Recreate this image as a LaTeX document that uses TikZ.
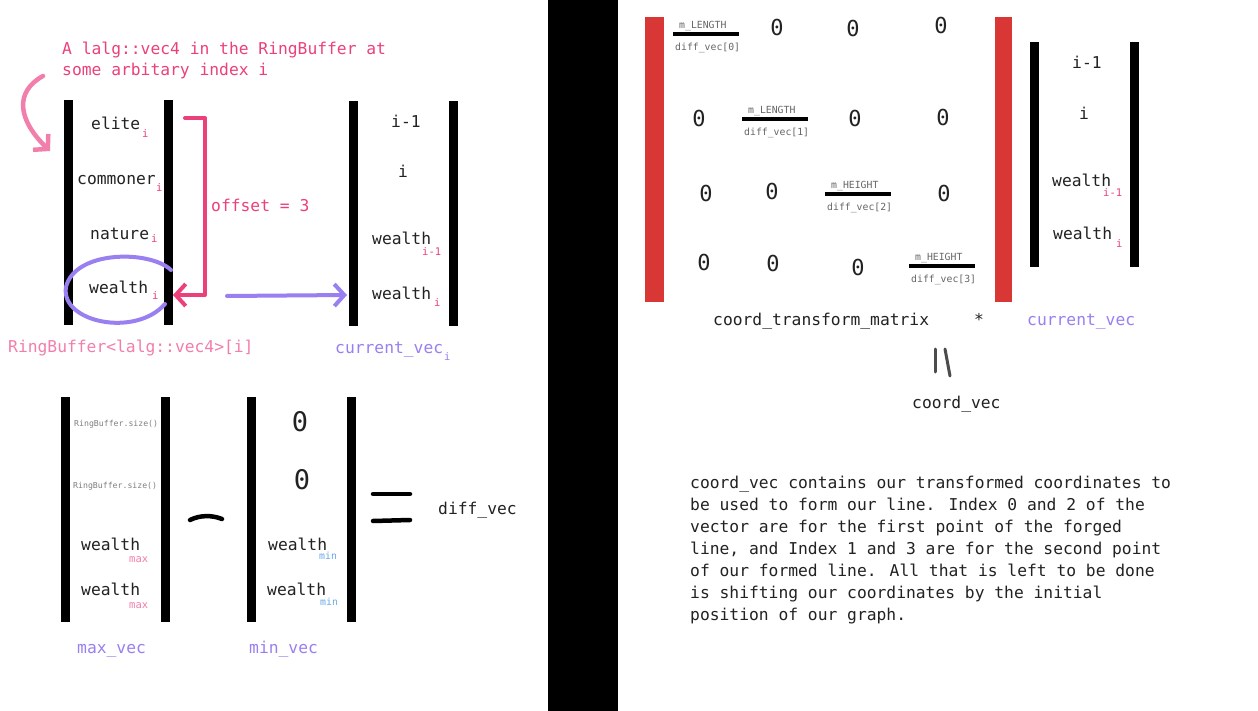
\documentclass[tikz,border=0pt]{standalone}
\usepackage{fontspec}
\setmainfont{DejaVu Sans Mono}
\usetikzlibrary{arrows.meta}

\definecolor{ringpink}{HTML}{EC407A}
\definecolor{softpink}{HTML}{F27EAC}
\definecolor{vecpurple}{HTML}{9A7FF0}
\definecolor{minblue}{HTML}{6AA8E8}
\definecolor{matred}{HTML}{D93636}
\definecolor{smallgray}{HTML}{666666}
\definecolor{inkgray}{HTML}{222222}

\tikzset{
  txt/.style={anchor=base west, inner sep=0pt, text=inkgray, font=\fontsize{16.3}{22}\selectfont},
  subtxt/.style={anchor=base west, inner sep=0pt, font=\fontsize{10.5}{12}\selectfont},
  tinytxt/.style={anchor=base west, inner sep=0pt, text=smallgray, font=\fontsize{9.8}{12}\selectfont},
  zero/.style={inner sep=0pt, text=inkgray, font=\fontsize{22}{24}\selectfont},
  hand/.style={line width=4pt, line cap=round, line join=round},
  barb/.style={-{Straight Barb[length=10pt,width=22pt]}},
}

\begin{document}
\begin{tikzpicture}[x=1pt, y=-1pt]
		% page, with the black strip in the middle
		\fill[white] (0,0) rectangle (1258,711);
		\useasboundingbox (0,0) rectangle (1258,711);
		\fill[black] (548,0) rectangle (618,711);

		% vector brackets
		\foreach \x/\ytop/\ybot in {64/100/325, 164/100/325, 349/101/326, 449/101/326,
			61/397/622, 161/397/622, 247/397/622, 347/397/622, 1030/42/267, 1130/42/267}
		\fill[black] (\x,\ytop) rectangle (\x+9,\ybot);
		\fill[matred] (645,17) rectangle (664,302);
		\fill[matred] (995,17) rectangle (1012,302);

		% RingBuffer entry at index i
		\node[txt, text=ringpink] (title1) at (62,55) {A lalg::vec4 in the RingBuffer at};
		\node[txt, text=ringpink] (title2) at (62,76) {some arbitary index i};
		\node[txt] (elite) at (91,130) {elite};
		\node[subtxt, text=ringpink] (elite-i) at (142,138) {i};
		\node[txt] (commoner) at (77,185) {commoner};
		\node[subtxt, text=ringpink] (commoner-i) at (156,192) {i};
		\node[txt] (nature) at (90,240) {nature};
		\node[subtxt, text=ringpink] (nature-i) at (151,243) {i};
		\node[txt] (wealth) at (89,294) {wealth};
		\node[subtxt, text=ringpink] (wealth-i) at (152,299) {i};
		\node[txt, text=softpink] (rblabel) at (8,352) {RingBuffer<lalg::vec4>[i]};

		% current_vec_i
		\node[txt] (cur-im1) at (391,128) {i-1};
		\node[txt, anchor=base] (cur-i) at (403,178) {i};
		\node[txt] (cur-w1) at (372,245) {wealth};
		\node[subtxt, text=ringpink] (cur-w1-s) at (422,256) {i-1};
		\node[txt] (cur-w2) at (372,299) {wealth};
		\node[subtxt, text=ringpink] (cur-w2-s) at (434,306) {i};
		\node[txt, text=vecpurple] (curlabel) at (335,353) {current\_vec};
		\node[subtxt, text=vecpurple] (curlabel-s) at (444,360) {i};

		% arrows and marks
		\coordinate (curlstart) at (43,76);
		\coordinate (curlend) at (50,151);
		\draw[hand, softpink, line width=4.5pt, barb] (curlstart) .. controls (14,92) and (18,120) .. (curlend);
		\draw[hand, vecpurple] (171,270) .. controls (150,250) and (75,250) .. (66,287)
			.. controls (60,322) and (135,338) .. (165,304);
		\coordinate (offtop) at (185,118);
		\coordinate (offcorner) at (205,295);
		\coordinate (wealth-in) at (173,295);
		\draw[hand, ringpink, barb] (offtop) -| (offcorner) -- (wealth-in);
		\node[txt, text=ringpink] (offset) at (211,212) {offset = 3};
		\coordinate (pick-out) at (227,296);
		\coordinate (cur-in) at (347,295);
		\draw[hand, vecpurple, barb] (pick-out) -- (cur-in);

		% max_vec - min_vec = diff_vec
		\node[tinytxt, text=gray, font=\fontsize{8.2}{10}\selectfont] (size1) at (74,426) {RingBuffer.size()};
		\node[tinytxt, text=gray, font=\fontsize{8.2}{10}\selectfont] (size2) at (73,488) {RingBuffer.size()};
		\node[txt] (max-w1) at (81,550) {wealth};
		\node[subtxt, text=softpink] (max-w1-s) at (129,562) {max};
		\node[txt] (max-w2) at (81,595) {wealth};
		\node[subtxt, text=softpink] (max-w2-s) at (129,608) {max};
		\node[zero, font=\fontsize{27}{30}\selectfont] (min-z1) at (300,422) {0};
		\node[zero, font=\fontsize{27}{30}\selectfont] (min-z2) at (302,480) {0};
		\node[txt] (min-w1) at (268,550) {wealth};
		\node[subtxt, text=minblue, font=\fontsize{9.8}{12}\selectfont] (min-w1-s) at (319,559) {min};
		\node[txt] (min-w2) at (267,595) {wealth};
		\node[subtxt, text=minblue, font=\fontsize{9.8}{12}\selectfont] (min-w2-s) at (320,605) {min};
		\node[txt, text=vecpurple] (maxlabel) at (77,653) {max\_vec};
		\node[txt, text=vecpurple] (minlabel) at (249,653) {min\_vec};
		\draw[hand, line width=4.5pt] (190,520) .. controls (200,515) and (212,515) .. (222,519);
		\draw[hand, line width=4.5pt] (373,494) -- (410,494);
		\draw[hand, line width=4.5pt] (373,521) -- (410,520);
		\node[txt] (diffvec) at (438,514) {diff\_vec};

		% coord_transform_matrix
		\foreach \lbl/\x/\y/\k in {m\_LENGTH/673/34/0, m\_LENGTH/742/119/1, m\_HEIGHT/825/194/2, m\_HEIGHT/909/266/3}{
			\fill[black] (\x,\y-2.3) rectangle (\x+66,\y+2.3);
			\node[tinytxt] (diag-\k) at (\x+6,\y-5) {\lbl};
			\node[tinytxt] (diff-\k) at (\x+2,\y+17) {diff\_vec[\k]};
		}
		\foreach \x/\y in {777/27, 853/28, 941/25, 699/118, 855/118, 943/117,
			706/193, 772/191, 944/193, 704/262, 773/263, 858/267}
		\node[zero] (zero-\x) at (\x,\y) {0};

		% current_vec on the right
		\node[txt] (rcur-im1) at (1072,69) {i-1};
		\node[txt, anchor=base] (rcur-i) at (1084,120) {i};
		\node[txt] (rcur-w1) at (1052,187) {wealth};
		\node[subtxt, text=ringpink] (rcur-w1-s) at (1103,197) {i-1};
		\node[txt] (rcur-w2) at (1053,240) {wealth};
		\node[subtxt, text=ringpink] (rcur-w2-s) at (1116,248) {i};

		\node[txt] (matlabel) at (713,325) {coord\_transform\_matrix};
		\node[txt, anchor=base] (times) at (979,325) {*};
		\node[txt, text=vecpurple] (rcurlabel) at (1027,325) {current\_vec};
		\draw[line width=3pt, line cap=round, black!70] (935,349) -- (935,372);
		\draw[line width=3pt, line cap=round, black!70] (945,349) -- (950,376);
		\node[txt] (coordvec) at (912,408) {coord\_vec};

		\foreach \ln [count=\k] in {coord\_vec contains our transformed coordinates to,
			be used to form our line. Index 0 and 2 of the,
			vector are for the first point of the forged,
			{line, and Index 1 and 3 are for the second point},
			of our formed line. All that is left to be done,
			is shifting our coordinates by the initial,
			position of our graph.}
		\node[txt] (para-\k) at (690,466+22*\k) {\ln};
\end{tikzpicture}
\end{document}
